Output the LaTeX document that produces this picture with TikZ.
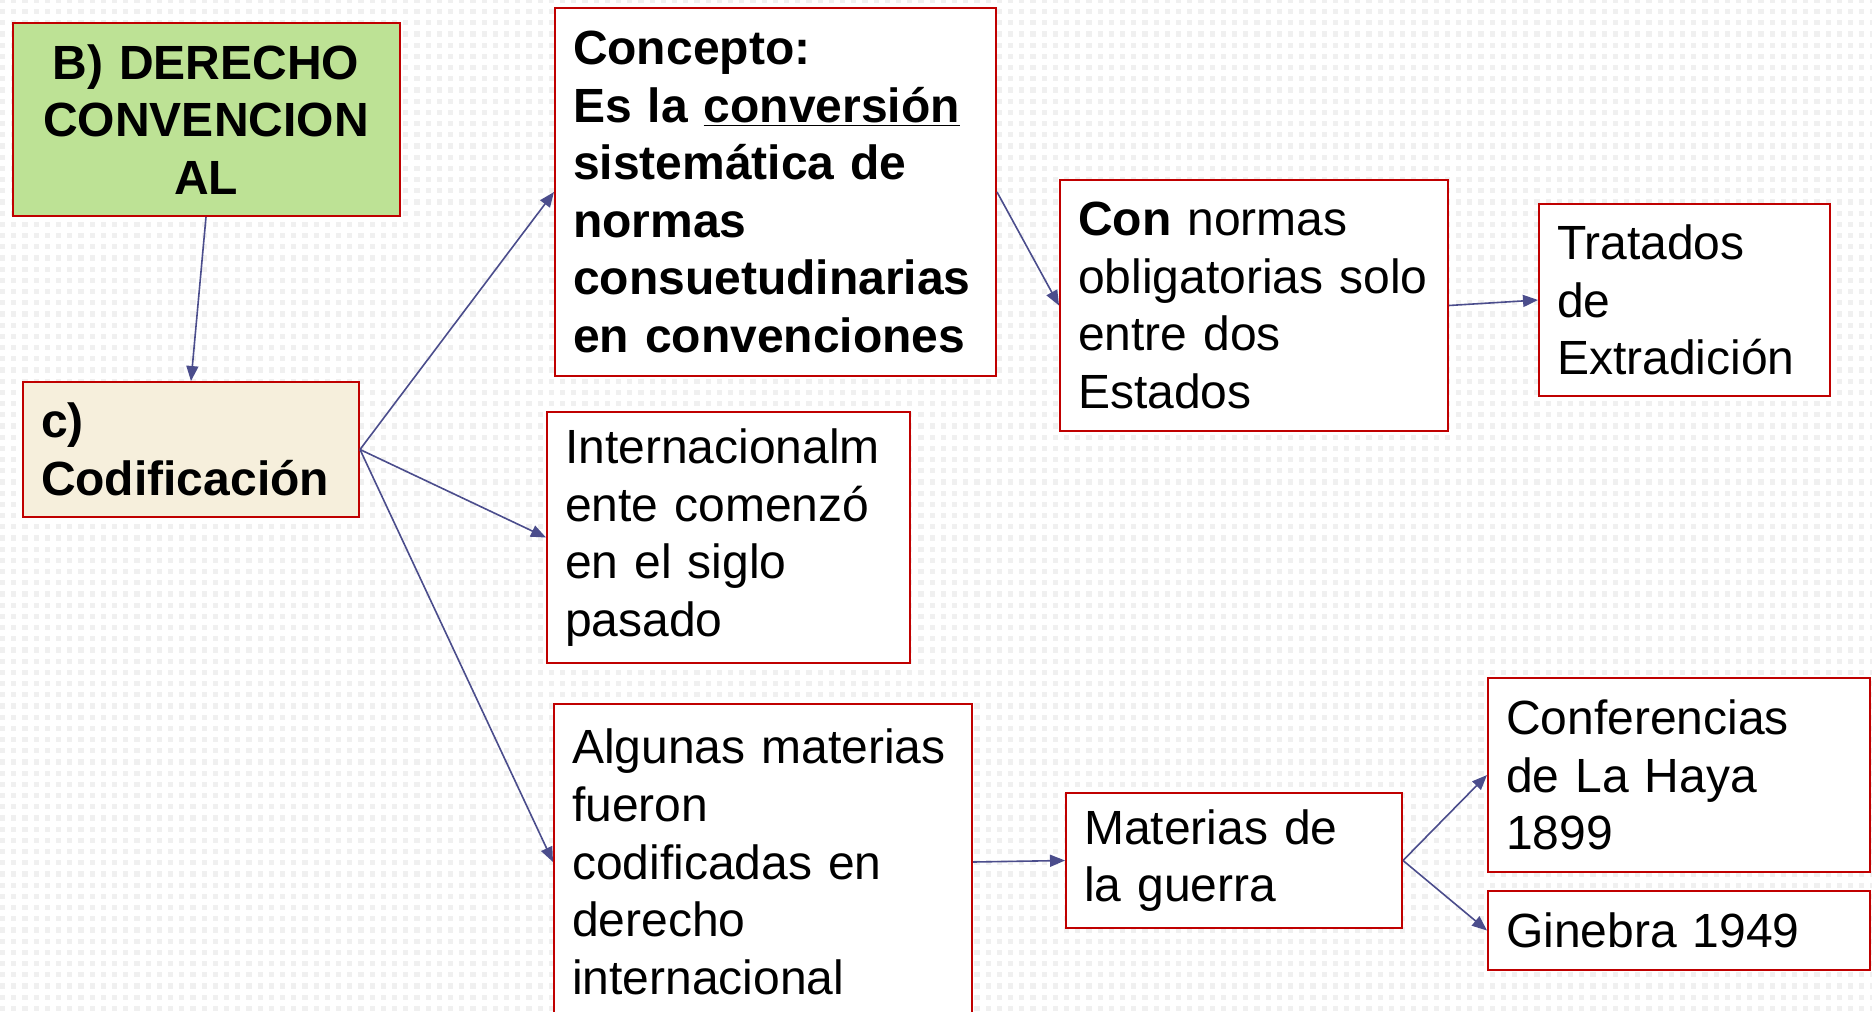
\documentclass[tikz,border=0pt]{standalone}
\usepackage{fontspec}
\setmainfont{Liberation Sans}
\usepackage{xcolor}
\usetikzlibrary{positioning, arrows.meta, patterns.meta}
\definecolor{borde}{HTML}{C00000}
\definecolor{flecha}{HTML}{4B4D8C}
\definecolor{verde}{HTML}{BDE295}
\definecolor{crema}{HTML}{F6EFDC}

\tikzdeclarepattern{name=rejilla, type=uncolored,
  bottom left={(-.1pt,-.1pt)}, top right={(5.7pt,5.7pt)},
  tile size={(5.6pt,5.6pt)},
  code={\fill (0pt,0pt) rectangle (2.6pt,2.6pt);}}

\begin{document}
\begin{tikzpicture}[x=0.5pt,y=-0.5pt,
  font=\fontsize{24}{28.8}\selectfont,
  caja/.style={draw=borde,line width=1pt,fill=white,align=left,
               inner xsep=9pt,inner ysep=2pt},
  flechita/.style={draw=flecha,line width=0.8pt,
                   -{Triangle[length=7.5pt,width=6pt]}}]
  \useasboundingbox (0,0) rectangle (1872,1011);
  \clip (0,0) rectangle (1872,1011);
  \fill[white] (0,0) rectangle (1872,1011);
  \fill[pattern=rejilla,pattern color=black!6] (0,0) rectangle (1872,1011);
  % left column
  \node[caja,fill=verde,align=center,text width=175.5pt,minimum height=96.5pt]
    (derecho) at (206,119.5) {\textbf{B) DERECHO}\\\textbf{CONVENCION}\\\textbf{AL}};
  \node[caja,fill=crema,text width=150pt,minimum height=67.5pt]
    (codif) at (191,449.5) {\textbf{c)}\\\textbf{Codificación}};
  % middle column
  \node[caja,text width=202.5pt,minimum height=184pt] (concepto) at (775.5,192)
    {\textbf{Concepto:}\\\textbf{Es la \underline{conversión}}\\\textbf{sistemática de}\\
     \textbf{normas}\\\textbf{consuetudinarias}\\\textbf{en convenciones}};
  \node[caja,text width=163.5pt,minimum height=125.5pt] (inter) at (728.5,537.5)
    {Internacionalm\\ente comenzó\\en el siglo\\pasado};
  \node[caja,text width=191pt,minimum height=158.5pt] (algunas) at (763,862)
    {Algunas materias\\fueron\\codificadas en\\derecho\\internacional};
  % right side
  \node[caja,text width=176pt,minimum height=125.5pt] (normas) at (1254,305.5)
    {\textbf{Con} normas\\obligatorias solo\\entre dos\\Estados};
  \node[caja,text width=127.5pt,minimum height=96pt] (tratados) at (1684.5,300)
    {Tratados\\de\\Extradición};
  \node[caja,text width=150pt,minimum height=67.5pt] (guerra) at (1234,860.5)
    {Materias de\\la guerra};
  \node[caja,text width=173pt,minimum height=97pt] (haya) at (1679,775)
    {Conferencias\\de La Haya\\1899};
  \node[caja,text width=173pt,minimum height=39.5pt] (ginebra) at (1679,930.5)
    {Ginebra 1949};
  % connectors
  \draw[flechita] (derecho.south) -- (codif.north);
  \draw[flechita] (codif.east) -- (concepto.west);
  \draw[flechita] (codif.east) -- (inter.west);
  \draw[flechita] (codif.east) -- (algunas.west);
  \draw[flechita] (concepto.east) -- (normas.west);
  \draw[flechita] (normas.east) -- (tratados.west);
  \draw[flechita] (algunas.east) -- (guerra.west);
  \draw[flechita] (guerra.east) -- (haya.west);
  \draw[flechita] (guerra.east) -- (ginebra.west);
\end{tikzpicture}
\end{document}
